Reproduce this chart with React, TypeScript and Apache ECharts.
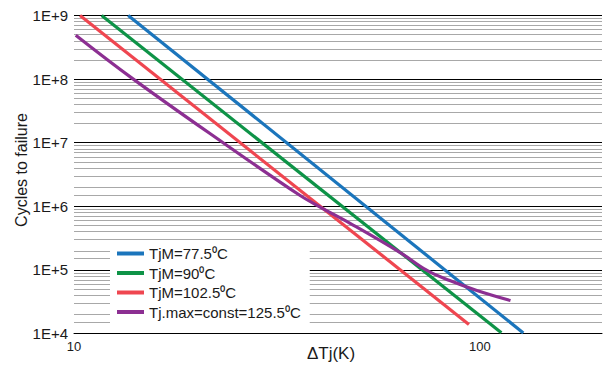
import React, { useEffect, useRef } from "react";
import * as echarts from "echarts";

const seriesNames = ["TjM=77.5⁰C", "TjM=90⁰C", "TjM=102.5⁰C", "Tj.max=const=125.5⁰C"];
const seriesColors = ["#1b75bc", "#0e9347", "#ef4650", "#8c2f92"];

const blueLine = [[13.6, 1e9], [128, 1.02e4]];
const greenLine = [[11.7, 1e9], [113, 1.03e4]];
const redLine = [[10.35, 1e9], [94, 1.39e4]];
const purpleLine = [
  [10.1, 4.9e8],
  [14.0, 1e8],
  [23.3, 1e7],
  [36.0, 1.49e6],
  [40.1, 1e6],
  [47.9, 5.4e5],
  [63.5, 1.89e5],
  [74.1, 9.8e4],
  [84.3, 6.8e4],
  [98.3, 4.75e4],
  [119, 3.3e4],
];

const yTickValues = [1e4, 1e5, 1e6, 1e7, 1e8, 1e9];
const xTickLabels = [10, 100];
const minorMultipliers = [2, 3, 4, 5, 6, 7, 8, 9];
const halfStepDecades = [1e4, 1e5, 1e6];
const minorDecades = [1e4, 1e5, 1e6, 1e7, 1e8];

const minorLines: number[] = [];
minorDecades.forEach((d) => {
  minorMultipliers.forEach((m) => minorLines.push(d * m));
});
halfStepDecades.forEach((d) => minorLines.push(d * 1.5));

const FONT = "'Liberation Sans', Arial, Helvetica, sans-serif";

export default function App() {
  const ref = useRef<HTMLDivElement>(null);
  useEffect(() => {
    document.body.style.margin = "0";
    const chart = echarts.init(ref.current!, null, { renderer: "svg" });
    const lines = [blueLine, greenLine, redLine, purpleLine];
    chart.setOption({
      animation: false,
      backgroundColor: "#ffffff",
      textStyle: { fontFamily: FONT },
      grid: { left: 74, right: 2, top: 15.5, bottom: 33.5, outerBoundsMode: "none" },
      xAxis: {
        type: "log",
        min: 10,
        max: 200,
        logBase: 10,
        axisLine: { show: true, lineStyle: { color: "#000", width: 1 } },
        axisTick: { show: false },
        splitLine: { show: false },
        axisLabel: {
          fontSize: 13,
          color: "#1a1a1a",
          margin: 6,
          fontFamily: FONT,
          formatter: (v: number) => {
            const r = Math.round(v);
            return xTickLabels.includes(r) && Math.abs(v - r) < 1e-6 ? String(r) : "";
          },
        },
      },
      yAxis: {
        type: "log",
        min: yTickValues[0],
        max: yTickValues[yTickValues.length - 1],
        logBase: 10,
        axisLine: { show: false },
        axisTick: { show: false },
        splitLine: { show: true, lineStyle: { color: "#000", width: 1 } },
        axisLabel: {
          fontSize: 15,
          color: "#1a1a1a",
          margin: 6,
          fontFamily: FONT,
          formatter: (v: number) => "1E+" + Math.round(Math.log10(v)),
        },
      },
      legend: {
        orient: "vertical",
        left: 110,
        top: 244,
        z: 10,
        backgroundColor: "#ffffff",
        padding: [2, 9, 8, 7],
        itemWidth: 27,
        itemHeight: 4,
        itemGap: 4.5,
        icon: "rect",
        data: seriesNames,
        textStyle: { fontSize: 15, color: "#1a1a1a", fontFamily: FONT },
      },
      graphic: [
        {
          type: "text",
          x: 21,
          y: 170,
          rotation: Math.PI / 2,
          style: {
            text: "Cycles to failure",
            fontSize: 16,
            fontFamily: FONT,
            fill: "#1a1a1a",
            align: "center",
            verticalAlign: "middle",
          },
        },
        {
          type: "text",
          x: 331,
          y: 353,
          style: {
            text: "ΔTj(K)",
            fontSize: 17,
            fontFamily: FONT,
            fill: "#1a1a1a",
            align: "center",
            verticalAlign: "middle",
          },
        },
      ],
      series: [
        {
          type: "line",
          z: 1,
          silent: true,
          data: [[10, 1e4]],
          showSymbol: false,
          lineStyle: { opacity: 0 },
          markLine: {
            z: 1,
            silent: true,
            symbol: ["none", "none"],
            label: { show: false },
            lineStyle: { color: "#a8a8a8", type: "solid", width: 1.2 },
            data: minorLines.map((v) => ({ yAxis: v })),
          },
        },
        ...lines.map((d, i) => ({
          type: "line",
          name: seriesNames[i],
          data: d,
          z: 3,
          showSymbol: false,
          symbol: "none",
          smooth: i === 3 ? 0.4 : false,
          color: seriesColors[i],
          lineStyle: { color: seriesColors[i], width: 3.2 },
        })),
      ],
    });
    return () => chart.dispose();
  }, []);
  return <div ref={ref} style={{ width: 604, height: 367 }} />;
}
